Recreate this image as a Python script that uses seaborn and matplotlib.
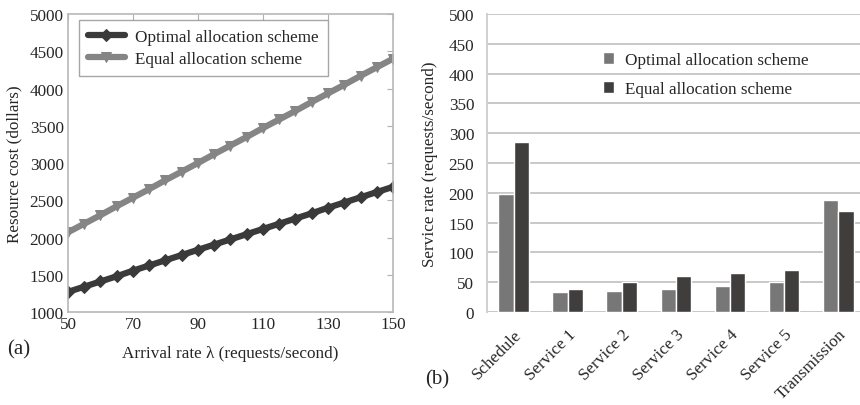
import numpy as np
import pandas as pd
import matplotlib
matplotlib.use("Agg")
import matplotlib.pyplot as plt
import seaborn as sns

# (a) resource cost vs arrival rate
arrival_rate = [50, 55, 60, 65, 70, 75, 80, 85, 90, 95, 100,
                105, 110, 115, 120, 125, 130, 135, 140, 145, 150]
cost_optimal = [1270, 1340, 1410, 1480, 1555, 1625, 1695, 1765, 1835, 1905, 1975,
                2045, 2115, 2185, 2255, 2325, 2400, 2470, 2540, 2610, 2680]
cost_equal = [2070, 2185, 2300, 2420, 2535, 2650, 2770, 2885, 3000, 3120, 3235,
              3350, 3470, 3585, 3700, 3820, 3935, 4050, 4170, 4285, 4400]

# (b) service rate per component
components = ["Schedule", "Service 1", "Service 2", "Service 3",
              "Service 4", "Service 5", "Transmission"]
rate_optimal = [198, 33, 35, 38, 43, 51, 188]
rate_equal = [285, 39, 50, 60, 65, 71, 170]

schemes = ["Optimal allocation scheme", "Equal allocation scheme"]
line_colors = {schemes[0]: "#3a3a3a", schemes[1]: "#858585"}
bar_colors = {schemes[0]: "#777777", schemes[1]: "#403d3d"}

sns.set_style("white")
plt.rcParams["font.family"] = ["Liberation Serif", "DejaVu Serif"]

fs = 12.3

fig = plt.figure(figsize=(8.6, 4.06), dpi=100)

# ---------- left panel ----------
ax1 = fig.add_axes([0.079, 0.229, 0.378, 0.734])
df_a = pd.DataFrame({
    "lam": arrival_rate * 2,
    "cost": cost_optimal + cost_equal,
    "scheme": [schemes[0]] * len(arrival_rate) + [schemes[1]] * len(arrival_rate),
})
sns.lineplot(data=df_a, x="lam", y="cost", hue="scheme", style="scheme",
             palette=line_colors,
             markers={schemes[0]: "D", schemes[1]: "v"}, dashes=False,
             linewidth=4.5, markersize=6.5, ax=ax1)
for ln, s in zip(ax1.get_lines(), schemes):
    ln.set_markeredgecolor(line_colors[s])
ax1.set_xlim(50, 150)
ax1.set_ylim(1000, 5000)
ax1.set_xticks([50, 70, 90, 110, 130, 150])
ax1.set_yticks(range(1000, 5001, 500))
ax1.tick_params(direction="in", length=4, color="#b0b0b0", labelsize=fs,
                top=True, right=True, pad=3)
for sp in ax1.spines.values():
    sp.set_color("#b8b8b8")
    sp.set_linewidth(1.2)
ax1.set_xlabel("Arrival rate λ (requests/second)", fontsize=fs, labelpad=9)
ax1.set_ylabel("Resource cost (dollars)", fontsize=fs, labelpad=5)
handles, labels = ax1.get_legend_handles_labels()
for h, s in zip(handles, labels):
    h.set_markeredgecolor(line_colors[s])
leg1 = ax1.legend(handles, labels, loc="upper left", bbox_to_anchor=(0.034, 0.98),
                  borderaxespad=0, fontsize=fs, frameon=True, fancybox=False,
                  handlelength=2.2, borderpad=0.5, labelspacing=0.4,
                  handletextpad=0.6)
leg1.get_frame().set_edgecolor("#909090")
leg1.get_frame().set_linewidth(1.0)
fig.text(0.008, 0.128, "(a)", fontsize=15)

# ---------- right panel ----------
ax2 = fig.add_axes([0.566, 0.229, 0.44, 0.734])
df_b = pd.DataFrame({
    "component": components * 2,
    "rate": rate_optimal + rate_equal,
    "scheme": [schemes[0]] * len(components) + [schemes[1]] * len(components),
})
sns.barplot(data=df_b, x="component", y="rate", hue="scheme",
            palette=bar_colors, width=0.57, gap=0, saturation=1,
            ax=ax2, zorder=3)
ax2.set_ylim(0, 500)
ax2.set_xlim(-0.5, len(components) - 0.5)
ax2.set_yticks(range(0, 501, 50))
ax2.yaxis.grid(True, color="#c8c8c8", linewidth=1.4, zorder=0)
ax2.set_axisbelow(True)
for k in ["top", "right", "bottom"]:
    ax2.spines[k].set_visible(False)
ax2.spines["left"].set_color("#d0d0d0")
ax2.spines["left"].set_linewidth(1.4)
ax2.tick_params(axis="y", length=6, color="#c8c8c8", width=1.4, labelsize=fs, pad=3)
ax2.set_xticks(np.arange(len(components)))
ax2.set_xticklabels(components, rotation=45, ha="right", rotation_mode="anchor",
                    fontsize=fs)
ax2.tick_params(axis="x", length=0, pad=10)
ax2.set_xticks(np.arange(len(components) + 1) - 0.5, minor=True)
ax2.tick_params(axis="x", which="minor", length=6, color="#c8c8c8", width=1.2)
ax2.axhline(0, color="#c8c8c8", linewidth=1.4, zorder=1)
ax2.set_xlabel("")
ax2.set_ylabel("Service rate (requests/second)", fontsize=fs, labelpad=8)
h2, l2 = ax2.get_legend_handles_labels()
ax2.legend(h2, l2, loc="upper left", bbox_to_anchor=(0.29, 0.895), borderaxespad=0,
           frameon=False, fontsize=fs, handlelength=0.65, handleheight=0.65,
           labelspacing=0.75, handletextpad=0.6)
fig.text(0.494, 0.052, "(b)", fontsize=15)

fig.savefig("out.png", dpi=100, facecolor="white")
